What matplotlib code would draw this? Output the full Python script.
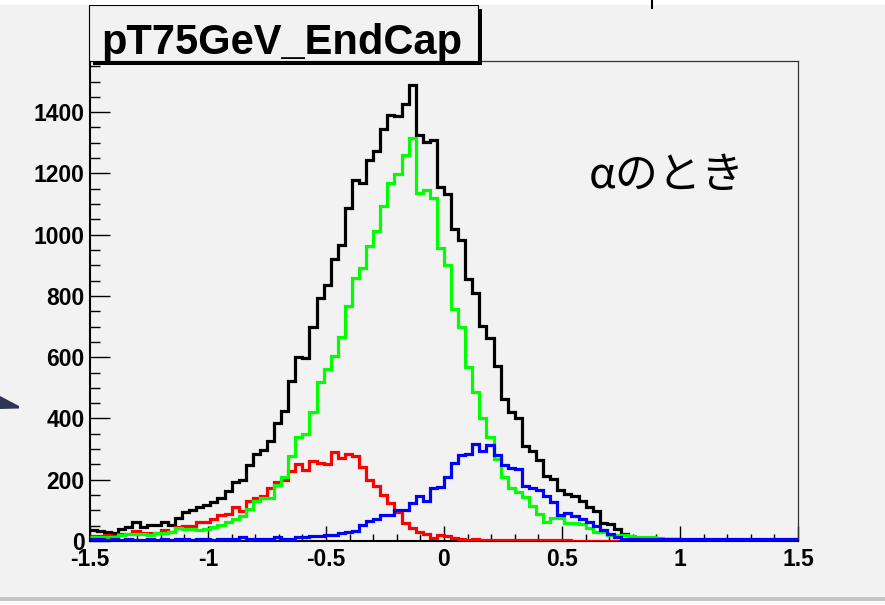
import numpy as np
import matplotlib.pyplot as plt
from matplotlib.patches import Rectangle, Polygon
from matplotlib.lines import Line2D
from matplotlib.ticker import MultipleLocator

# histogram binning: 100 bins over [-1.5, 1.5]
n_bins = 100
x_lo, x_hi = -1.5, 1.5

total = [35, 34, 30, 27, 40, 46, 62, 46, 52, 52,
         62, 52, 76, 95, 101, 112, 118, 126, 142, 163,
         192, 199, 248, 284, 296, 328, 385, 426, 521, 601,
         598, 698, 794, 837, 922, 966, 1088, 1180, 1170, 1243,
         1274, 1344, 1391, 1388, 1428, 1490, 1326, 1301, 1308, 1156,
         1132, 1018, 982, 854, 808, 703, 663, 570, 463, 420,
         401, 309, 295, 265, 211, 203, 167, 155, 148, 131,
         112, 98, 58, 56, 40, 22, 12, 10, 9, 8,
         7, 6, 5, 4, 3, 3, 2, 2, 2, 1,
         1, 1, 1, 1, 1, 0, 0, 0, 0, 0]

neg_side = [16, 16, 20, 15, 23, 23, 34, 27, 25, 25,
            36, 30, 45, 49, 49, 63, 63, 71, 85, 89,
            110, 99, 130, 142, 146, 174, 191, 200, 230, 252,
            232, 260, 256, 251, 289, 270, 285, 278, 243, 200,
            178, 150, 123, 96, 58, 41, 30, 23, 9, 20,
            17, 9, 5, 3, 5, 3, 4, 2, 3, 4,
            2, 3, 2, 4, 3, 2, 3, 2, 1, 1,
            1, 1, 1, 1, 1, 1, 0, 0, 0, 0,
            0, 0, 0, 0, 0, 0, 0, 0, 0, 0,
            0, 0, 0, 0, 0, 0, 0, 0, 0, 0]

central = [12, 12, 12, 13, 20, 23, 23, 23, 20, 25,
           25, 30, 42, 40, 40, 36, 38, 45, 52, 62,
           71, 80, 106, 132, 140, 142, 183, 210, 278, 339,
           350, 420, 518, 562, 605, 665, 767, 857, 892, 963,
           1012, 1094, 1170, 1199, 1260, 1317, 1137, 1145, 1121, 957,
           900, 756, 699, 568, 485, 400, 340, 268, 210, 172,
           160, 145, 115, 88, 63, 76, 76, 58, 58, 56,
           41, 30, 28, 20, 20, 18, 16, 14, 14, 12,
           10, 8, 6, 4, 0, 0, 0, 0, 0, 0,
           0, 0, 0, 0, 0, 0, 0, 0, 0, 0]

pos_side = [5, 5, 4, 5, 4, 5, 4, 4, 5, 4,
            5, 4, 5, 5, 4, 5, 5, 4, 5, 6,
            8, 12, 8, 7, 7, 7, 12, 8, 8, 12,
            13, 15, 16, 18, 20, 26, 28, 32, 52, 66,
            72, 84, 86, 100, 102, 125, 147, 130, 172, 175,
            208, 255, 280, 284, 317, 293, 314, 280, 248, 238,
            234, 178, 172, 167, 148, 126, 85, 93, 80, 72,
            63, 48, 36, 24, 14, 6, 5, 5, 5, 5,
            5, 5, 5, 5, 5, 5, 5, 5, 5, 5,
            5, 5, 5, 5, 5, 5, 5, 5, 5, 5]

x_tick_vals = [-1.5, -1, -0.5, 0, 0.5, 1, 1.5]
x_tick_labels = ['-1.5', '-1', '-0.5', '0', '0.5', '1', '1.5']
y_tick_vals = [0, 200, 400, 600, 800, 1000, 1200, 1400]
y_tick_labels = [str(v) for v in y_tick_vals]

title = 'pT75GeV_EndCap'
note = 'αのとき'

W, H = 885, 605
bg = '#f2f2f2'


def fx(px):
    return px / W


def fy(py):
    return 1 - py / H


fig = plt.figure(figsize=(W / 100, H / 100), dpi=100, facecolor=bg)
ax = fig.add_axes([fx(90), fy(541), fx(798) - fx(90), fy(61) - fy(541)])
ax.set_facecolor(bg)

edges = np.linspace(x_lo, x_hi, n_bins + 1)
for vals, col in [(total, 'black'), (neg_side, '#ff0000'),
                  (central, '#00ff00'), (pos_side, '#0000ff')]:
    ax.stairs(vals, edges, baseline=None, color=col, lw=2.3, zorder=3)

ax.set_xlim(x_lo, x_hi)
ax.set_ylim(0, 1567)

tick_font = dict(family='Liberation Sans', weight='bold', size=16.5)
ax.set_xticks(x_tick_vals)
ax.set_xticklabels(x_tick_labels, fontdict=tick_font)
ax.set_yticks(y_tick_vals)
ax.set_yticklabels(y_tick_labels, fontdict=tick_font)
ax.xaxis.set_minor_locator(MultipleLocator(0.1))
ax.yaxis.set_minor_locator(MultipleLocator(50))

ax.tick_params(axis='x', which='major', direction='in', length=10.8, width=1.0, pad=5, top=False)
ax.tick_params(axis='x', which='minor', direction='in', length=5.4, width=1.0, top=False)
ax.tick_params(axis='y', which='major', direction='in', length=14.4, width=1.0, pad=4, right=False)
ax.tick_params(axis='y', which='minor', direction='in', length=7.2, width=1.0, right=False)

for side in ['left', 'bottom']:
    ax.spines[side].set_linewidth(1.5)
    ax.spines[side].set_color('black')
for side in ['top', 'right']:
    ax.spines[side].set_linewidth(0.9)
    ax.spines[side].set_color('#333333')

ax.text(0.815, 0.76, note, transform=ax.transAxes, ha='center', va='center',
        fontsize=31, family=['Noto Sans CJK JP', 'DejaVu Sans'])

# title box with drop shadow
fig.add_artist(Rectangle((fx(93), fy(65)), fx(482) - fx(93), fy(9) - fy(65),
                         transform=fig.transFigure, facecolor='black', edgecolor='none'))
fig.add_artist(Rectangle((fx(89), fy(61)), fx(478) - fx(89), fy(5) - fy(61),
                         transform=fig.transFigure, facecolor=bg, edgecolor='black', lw=0.8))
fig.text(fx(282), fy(54), title, ha='center', va='baseline',
         fontsize=30, family='Liberation Sans', weight='bold')

# page edges around the canvas
fig.add_artist(Rectangle((0, fy(5)), 1, fy(0) - fy(5), transform=fig.transFigure,
                         facecolor='white', edgecolor='none'))
fig.add_artist(Line2D([fx(652), fx(652)], [fy(0), fy(8)], transform=fig.transFigure,
                      color='black', lw=1.5))
fig.add_artist(Rectangle((0, fy(601)), 1, fy(597) - fy(601), transform=fig.transFigure,
                         facecolor='#c4c4c4', edgecolor='none'))
fig.add_artist(Rectangle((0, 0), 1, fy(601), transform=fig.transFigure,
                         facecolor='#fafafa', edgecolor='none'))
fig.add_artist(Polygon([(fx(0), fy(396)), (fx(19), fy(406)), (fx(19), fy(408.5)), (fx(0), fy(409))],
                       closed=True, transform=fig.transFigure, facecolor='#2e3553', edgecolor='none'))

fig.savefig('out.png', dpi=100, facecolor=bg)
